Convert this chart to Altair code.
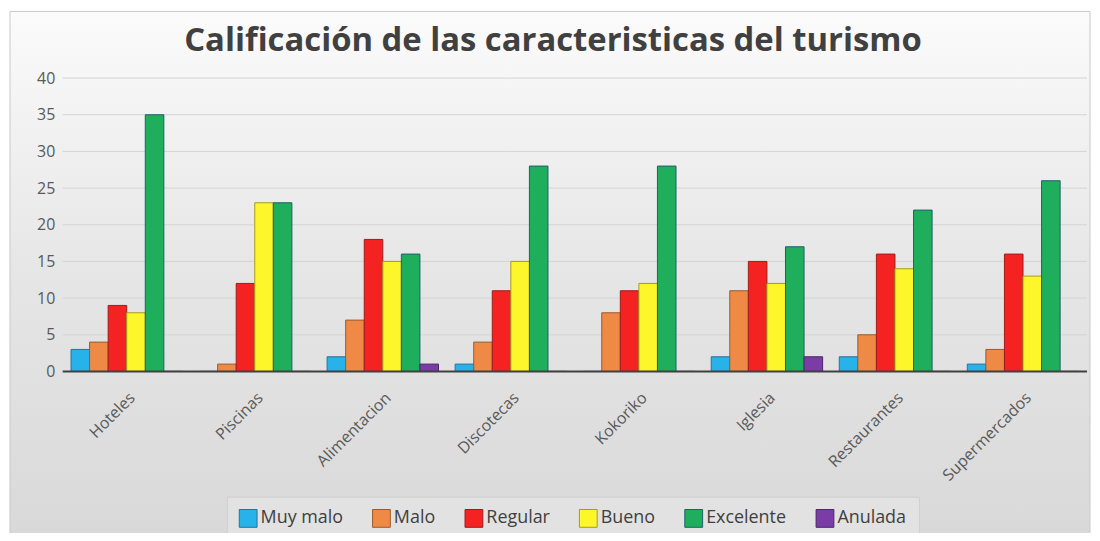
import altair as alt
import pandas as pd

title_text = "Calificación de las caracteristicas del turismo"
categories = ["Hoteles", "Piscinas", "Alimentacion", "Discotecas", "Kokoriko",
              "Iglesia", "Restaurantes", "Supermercados"]
series = ["Muy malo", "Malo", "Regular", "Bueno", "Excelente", "Anulada"]
muy_malo = [3, 0, 2, 1, 0, 2, 2, 1]
malo = [4, 1, 7, 4, 8, 11, 5, 3]
regular = [9, 12, 18, 11, 11, 15, 16, 16]
bueno = [8, 23, 15, 15, 12, 12, 14, 13]
excelente = [35, 23, 16, 28, 28, 17, 22, 26]
anulada = [0, 0, 1, 0, 0, 2, 0, 0]
y_ticks = [0, 5, 10, 15, 20, 25, 30, 35, 40]

colors = ["#27B2EA", "#EE8A45", "#F52222", "#FCF62A", "#1EAE5C", "#7A3DA6"]
strokes = ["#2F6F95", "#9A5A2A", "#9E1B1B", "#A69A20", "#1F5E6E", "#4B2668"]

values = [muy_malo, malo, regular, bueno, excelente, anulada]
rows = []
for s, vals in zip(series, values):
    for c, v in zip(categories, vals):
        rows.append({"Categoria": c, "Serie": s, "Valor": v})
df = pd.DataFrame(rows)
grid_df = pd.DataFrame({"y": y_ticks})

W, H = 1030, 295

y_axis = alt.Axis(values=y_ticks, grid=False, ticks=False, domain=False,
                  labelFont="Open Sans", labelFontSize=16, labelColor="#595959",
                  labelPadding=8, title=None, zindex=2)
y_scale = alt.Scale(domain=[0, 40])

bg = alt.Chart(pd.DataFrame({"a": [0]})).mark_rect(
    fill=alt.Gradient(
        gradient="linear",
        stops=[alt.GradientStop(color="#fbfbfb", offset=0),
               alt.GradientStop(color="#e6e6e6", offset=0.5),
               alt.GradientStop(color="#d9d9d9", offset=1)],
        x1=0, x2=0, y1=0, y2=1),
    stroke="#c8c8c8", strokeWidth=1
).encode(x=alt.value(-53), x2=alt.value(1033), y=alt.value(-67), y2=alt.value(458))

title = alt.Chart(pd.DataFrame({"t": [title_text]})).mark_text(
    font="Open Sans", fontSize=33, fontWeight="bold", color="#404040",
    align="center", baseline="alphabetic"
).encode(text="t:N", x=alt.value(493), y=alt.value(-27))

grid = alt.Chart(grid_df).mark_rule(color="#d4d4d4", strokeWidth=1).encode(
    y=alt.Y("y:Q", scale=y_scale, axis=y_axis)
)

bars = alt.Chart(df).mark_bar(strokeWidth=1).encode(
    x=alt.X("Categoria:N", sort=categories,
            scale=alt.Scale(paddingInner=0.13, paddingOuter=0.065),
            axis=alt.Axis(title=None, labelAngle=-45, labelFont="Open Sans",
                          labelFontSize=16, labelColor="#595959", ticks=False,
                          domain=False, labelPadding=18, zindex=2)),
    xOffset=alt.XOffset("Serie:N", sort=series, scale=alt.Scale(paddingInner=0, paddingOuter=0)),
    y=alt.Y("Valor:Q", scale=y_scale, axis=y_axis),
    fill=alt.Fill("Serie:N", sort=series, scale=alt.Scale(domain=series, range=colors),
                  legend=alt.Legend(title=None, orient="none", direction="horizontal",
                                    legendX=165, legendY=421, symbolType="square",
                                    symbolSize=320, symbolStrokeWidth=1,
                                    labelFont="Open Sans", labelFontSize=18,
                                    labelColor="#404040", columnPadding=27,
                                    fillColor="#e2e2e2", strokeColor="#cfcfcf",
                                    padding=12, labelOffset=3, zindex=2)),
    stroke=alt.Stroke("Serie:N", scale=alt.Scale(domain=series, range=strokes), legend=None),
)

zero = alt.Chart(pd.DataFrame({"y": [0]})).mark_rule(color="#404040", strokeWidth=2).encode(
    y=alt.Y("y:Q", scale=y_scale, axis=y_axis)
)

chart = alt.layer(bg, title, grid, bars, zero).resolve_scale(y="shared").properties(
    width=W, height=H,
    autosize=alt.AutoSizeParams(type="none"),
    padding={"left": 55, "top": 69, "right": 5, "bottom": 161},
).configure_view(stroke=None).configure(background="#ffffff")

chart.save("out.html", embed_options={"renderer": "svg", "actions": False})
